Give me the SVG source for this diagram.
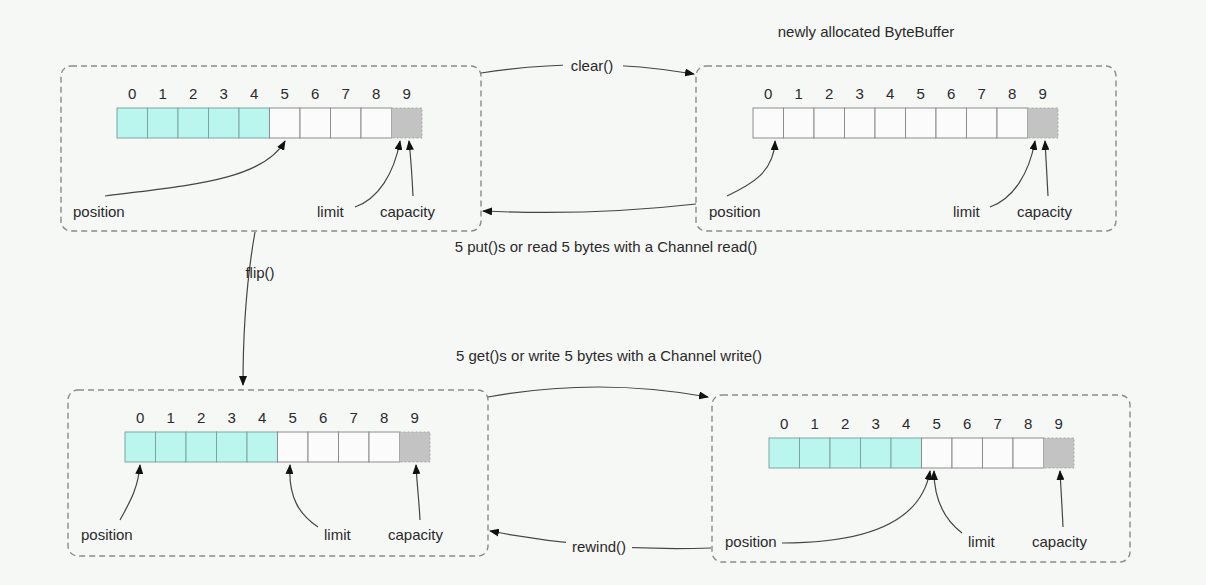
<svg xmlns="http://www.w3.org/2000/svg" width="1206" height="585" viewBox="0 0 1206 585">
<style>
text{font-family:"Liberation Sans",Arial,sans-serif;fill:#2a2a2a;font-size:15px}
.lbl{font-size:15px}
.box{fill:none;stroke:#8a8a8a;stroke-width:1.4;stroke-dasharray:6 4}
.c{fill:#fafbfa;stroke:#8c8c8c;stroke-width:1}
.f{fill:#baf6ee;stroke:#7aa6a0;stroke-width:1}
.g{fill:#c3c3c3;stroke:#a8a8a8;stroke-width:1;stroke-dasharray:2 2}
.d{text-anchor:middle}
.ln{fill:none;stroke:#444;stroke-width:1.2;marker-end:url(#ah)}
.bg{fill:#f6f8f6}
</style>
<defs>
<marker id="ah" markerUnits="userSpaceOnUse" markerWidth="10" markerHeight="8" refX="9" refY="4" orient="auto">
<path d="M0,0 L10,4 L0,8 z" fill="#111"/>
</marker>
<g id="digits">
<text class="d" x="15.25" y="-9.5">0</text><text class="d" x="45.75" y="-9.5">1</text><text class="d" x="76.25" y="-9.5">2</text><text class="d" x="106.75" y="-9.5">3</text><text class="d" x="137.25" y="-9.5">4</text><text class="d" x="167.75" y="-9.5">5</text><text class="d" x="198.25" y="-9.5">6</text><text class="d" x="228.75" y="-9.5">7</text><text class="d" x="259.25" y="-9.5">8</text><text class="d" x="289.75" y="-9.5">9</text>
</g>
<g id="rowHalf">
<rect class="f" x="0" y="0" width="30.5" height="30"/><rect class="f" x="30.5" y="0" width="30.5" height="30"/><rect class="f" x="61" y="0" width="30.5" height="30"/><rect class="f" x="91.5" y="0" width="30.5" height="30"/><rect class="f" x="122" y="0" width="30.5" height="30"/>
<rect class="c" x="152.5" y="0" width="30.5" height="30"/><rect class="c" x="183" y="0" width="30.5" height="30"/><rect class="c" x="213.5" y="0" width="30.5" height="30"/><rect class="c" x="244" y="0" width="30.5" height="30"/>
<rect class="g" x="274.5" y="0" width="30.5" height="30"/>
<use href="#digits"/>
</g>
<g id="rowEmpty">
<rect class="c" x="0" y="0" width="30.5" height="30"/><rect class="c" x="30.5" y="0" width="30.5" height="30"/><rect class="c" x="61" y="0" width="30.5" height="30"/><rect class="c" x="91.5" y="0" width="30.5" height="30"/><rect class="c" x="122" y="0" width="30.5" height="30"/>
<rect class="c" x="152.5" y="0" width="30.5" height="30"/><rect class="c" x="183" y="0" width="30.5" height="30"/><rect class="c" x="213.5" y="0" width="30.5" height="30"/><rect class="c" x="244" y="0" width="30.5" height="30"/>
<rect class="g" x="274.5" y="0" width="30.5" height="30"/>
<use href="#digits"/>
</g>
</defs>
<rect width="1206" height="585" fill="#f6f8f6"/>

<g id="buffer-after-put">
<rect class="box" x="61" y="66" width="420" height="165" rx="10"/>
<use href="#rowHalf" x="117" y="108"/>
<path class="ln" d="M105,196 C180,186 262,182 285,141"/>
<path class="ln" d="M355,207 C378,199 394,174 400,141"/>
<path class="ln" d="M413,196 C412,175 411,160 409,141"/>
<text x="73" y="217">position</text>
<text x="317" y="217">limit</text>
<text x="380" y="217">capacity</text>
</g>

<g id="buffer-new">
<rect class="box" x="696" y="66" width="420" height="165" rx="10"/>
<use href="#rowEmpty" x="753" y="108"/>
<path class="ln" d="M727,196 C752,184 774,172 775,141"/>
<path class="ln" d="M990,207 C1013,199 1029,174 1035,141"/>
<path class="ln" d="M1048,196 C1047,175 1046,160 1045,141"/>
<text x="709" y="217">position</text>
<text x="953" y="217">limit</text>
<text x="1017" y="217">capacity</text>
</g>

<g id="buffer-after-flip">
<rect class="box" x="68" y="390" width="420" height="166" rx="10"/>
<use href="#rowHalf" x="125" y="432"/>
<path class="ln" d="M120,520 C128,505 138,490 140,465"/>
<path class="ln" d="M318,527 C300,515 288,498 290,465"/>
<path class="ln" d="M420,520 C419,500 417,485 416,465"/>
<text x="81" y="540">position</text>
<text x="324" y="540">limit</text>
<text x="388" y="540">capacity</text>
</g>

<g id="buffer-after-get">
<rect class="box" x="712" y="395" width="418" height="167" rx="10"/>
<use href="#rowHalf" x="769" y="438"/>
<path class="ln" d="M782,543 C850,543 920,530 930,471"/>
<path class="ln" d="M962,533 C945,520 934,500 934,471"/>
<path class="ln" d="M1063,527 C1062,505 1061,490 1060,471"/>
<text x="725" y="547">position</text>
<text x="968" y="547">limit</text>
<text x="1032" y="547">capacity</text>
</g>

<g id="connectors">
<path class="ln" d="M481,73 Q590,56 694,74"/>
<rect class="bg" x="563" y="56" width="60" height="20"/>
<text class="lbl" x="592" y="71" text-anchor="middle">clear()</text>
<path class="ln" d="M696,204 Q590,216 483,211"/>
<path class="ln" d="M255,232 Q243,300 243,385"/>
<text class="lbl" x="260" y="278" text-anchor="middle">flip()</text>
<path class="ln" d="M488,397 Q598,377 708,397"/>
<path class="ln" d="M711,548 Q600,552 490,531"/>
<rect class="bg" x="566" y="535" width="66" height="20"/>
<text class="lbl" x="599" y="552" text-anchor="middle">rewind()</text>
<text class="lbl" x="866" y="37" text-anchor="middle">newly allocated ByteBuffer</text>
<text class="lbl" x="606" y="252" text-anchor="middle">5 put()s or read 5 bytes with a Channel read()</text>
<text class="lbl" x="609" y="361" text-anchor="middle">5 get()s or write 5 bytes with a Channel write()</text>
</g>
</svg>
